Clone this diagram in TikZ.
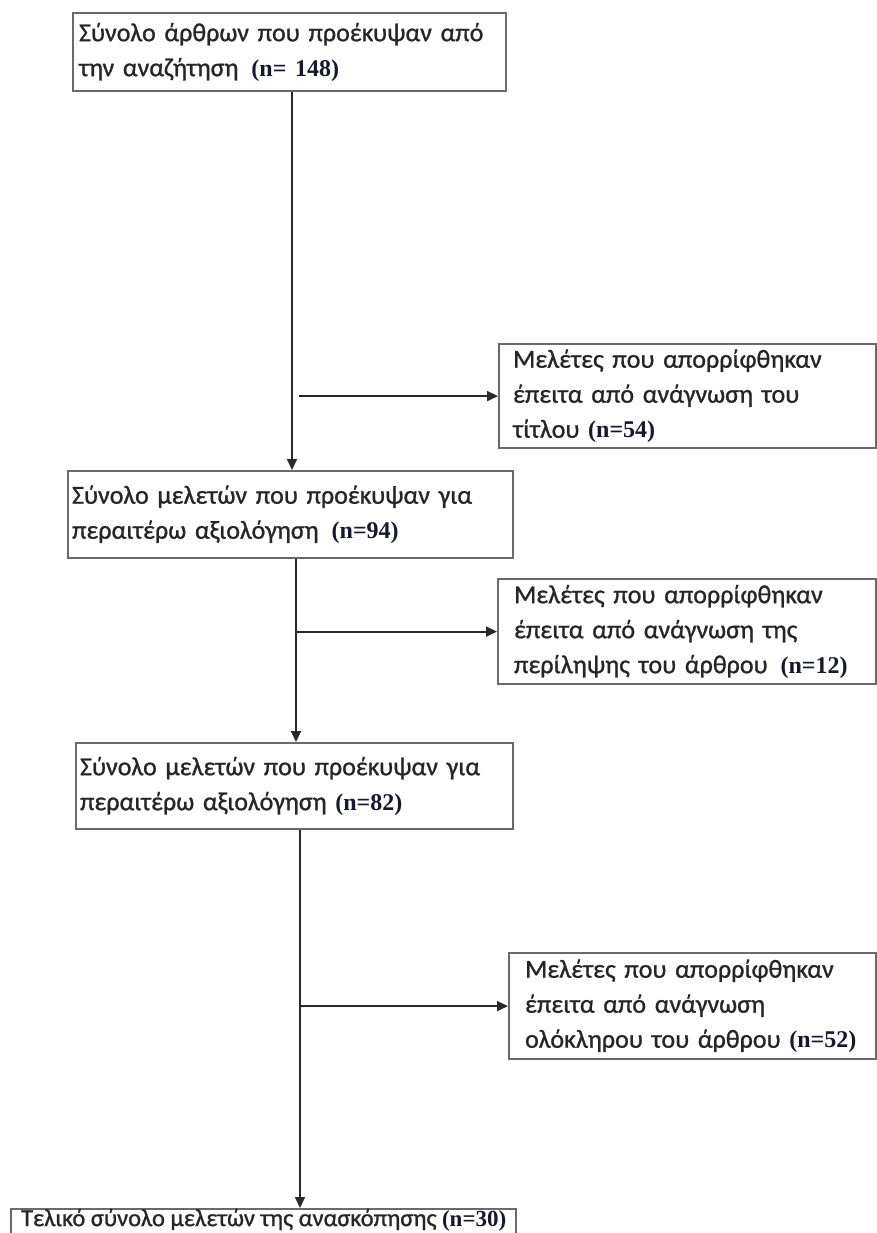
\documentclass[tikz,border=0pt]{standalone}
\usepackage{fontspec}
\setmainfont{Carlito}[FakeBold=1]
\newfontfamily\nfont{Liberation Serif}
\usetikzlibrary{arrows.meta}
\definecolor{txt}{HTML}{262626}
\definecolor{num}{HTML}{15192B}
\definecolor{boxc}{HTML}{6A6A6A}
\definecolor{lnc}{HTML}{2A2A2A}
\newcommand{\nval}[1]{{\nfont\bfseries\fontsize{24}{35}\selectfont\color{num}#1}}
\begin{document}
\begin{tikzpicture}[x=1pt,y=-1pt,
  box/.style={draw=boxc, line width=2.2pt, anchor=north west, align=left,
    inner ysep=0pt, text=txt,
    font=\fontsize{26}{35}\selectfont},
  conn/.style={line width=1.8pt, draw=lnc, -{Triangle[length=11pt,width=10pt]}}]
\useasboundingbox (0,0) rectangle (877,1233);
\fill[white] (0,0) rectangle (877,1233);

\node[box, inner xsep=6pt, text width=421pt, minimum height=78pt] (b1) at (72,12)
  {\mbox{Σύνολο άρθρων που προέκυψαν από}\\\mbox{την αναζήτηση\enspace\nval{(n= 148)}}};
\node[box, inner xsep=14pt, text width=349pt, minimum height=104pt] (b2) at (498,343)
  {\mbox{Μελέτες που απορρίφθηκαν}\\\mbox{έπειτα από ανάγνωση του}\\\mbox{τίτλου \nval{(n=54)}}};
\node[box, inner xsep=4pt, text width=437pt, minimum height=87pt] (b3) at (67,470)
  {\mbox{Σύνολο μελετών που προέκυψαν για}\\\mbox{περαιτέρω αξιολόγηση\enspace\nval{(n=94)}}};
\node[box, inner xsep=16pt, text width=346pt, minimum height=105pt] (b4) at (497,578)
  {\mbox{Μελέτες που απορρίφθηκαν}\\\mbox{έπειτα από ανάγνωση της}\\\mbox{περίληψης του άρθρου\enspace\nval{(n=12)}}};
\node[box, inner xsep=4pt, text width=429pt, minimum height=86pt] (b5) at (75,742)
  {\mbox{Σύνολο μελετών που προέκυψαν για}\\\mbox{περαιτέρω αξιολόγηση \nval{(n=82)}}};
\node[box, inner xsep=16pt, text width=335pt, minimum height=106pt] (b6) at (508,952)
  {\mbox{Μελέτες που απορρίφθηκαν}\\\mbox{έπειτα από ανάγνωση}\\\mbox{ολόκληρου του άρθρου \nval{(n=52)}}};
\node[draw=boxc, line width=2.2pt, anchor=north west, inner xsep=10pt, inner ysep=2pt,
  text height=15pt, text depth=12pt, text=txt, font=\fontsize{24.5}{35}\selectfont] (b7) at (10,1208)
  {Τελικό σύνολο μελετών της ανασκόπησης {\nfont\bfseries\fontsize{23}{35}\selectfont\color{num}(n=30)}};

\coordinate (t1) at (292,0);
\coordinate (t2) at (296,0);
\coordinate (t3) at (300,0);
\coordinate (s1) at (299,0);

\draw[conn] (b1.south -| t1) -- (b3.north -| t1);
\draw[conn] (b3.south -| t2) -- (b5.north -| t2);
\draw[conn] (b5.south -| t3) -- (b7.north -| t3);

\draw[conn] (b2.west -| s1) -- (b2.west);
\draw[conn] (b4.west -| t2) -- (b4.west);
\draw[conn] (b6.west -| t3) -- (b6.west);
\end{tikzpicture}
\end{document}
